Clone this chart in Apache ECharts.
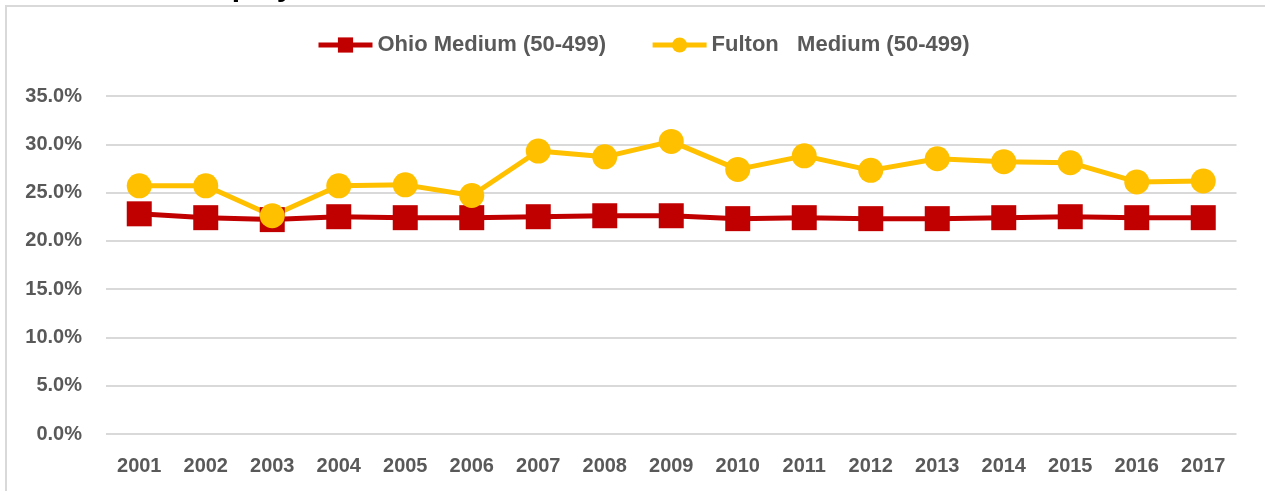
<!DOCTYPE html>
<html lang="en">
<head>
    <meta charset="UTF-8">
    <title>Medium establishments share</title>
    <script src="https://cdn.jsdelivr.net/npm/echarts@6/dist/echarts.min.js"></script>
    <style>
        html, body { margin: 0; padding: 0; background: #fff; }
    </style>
</head>
<body>
    <div id="main" style="width: 1265px;height: 491px;"></div>
    <script type="text/javascript">
        // data (percent)
        var years = ['2001', '2002', '2003', '2004', '2005', '2006', '2007', '2008', '2009',
            '2010', '2011', '2012', '2013', '2014', '2015', '2016', '2017'];
        var ohio = [22.8, 22.4, 22.2, 22.5, 22.4, 22.4, 22.5, 22.6, 22.6,
            22.3, 22.4, 22.3, 22.3, 22.4, 22.5, 22.4, 22.4];
        var fulton = [25.7, 25.7, 22.6, 25.7, 25.8, 24.7, 29.3, 28.7, 30.3,
            27.4, 28.8, 27.3, 28.5, 28.2, 28.1, 26.1, 26.2];
        var seriesNames = ['Ohio Medium (50-499)', 'Fulton   Medium (50-499)'];

        var font = 'Liberation Sans, Arial, sans-serif';
        var gray = '#595959';

        var myChart = echarts.init(document.getElementById('main'));
        myChart.setOption({
            animation: false,
            // title is cut off at the top of the picture, only descenders show
            title: {
                text: 'Employment Share',
                left: 180,
                top: -32,
                textStyle: { fontSize: 30, fontWeight: 'bold', color: '#000', fontFamily: font }
            },
            graphic: [{
                type: 'rect',
                silent: true,
                shape: { x: 6, y: 6, width: 1400, height: 600 },
                style: { fill: 'none', stroke: '#d9d9d9', lineWidth: 2 }
            }],
            legend: {
                left: 316,
                top: 34,
                padding: 0,
                itemWidth: 54,
                itemHeight: 19,
                itemGap: 44,
                lineStyle: { width: 5 },
                textStyle: { fontSize: 22, fontWeight: 'bold', color: gray, fontFamily: font },
                data: seriesNames
            },
            grid: { left: 106, right: 28.5, top: 96, bottom: 57 },
            xAxis: {
                type: 'category',
                data: years,
                boundaryGap: true,
                axisLine: { show: false },
                axisTick: { show: false },
                axisLabel: { margin: 22, fontSize: 20, fontWeight: 'bold', color: gray, fontFamily: font }
            },
            yAxis: {
                type: 'value',
                min: 0,
                max: 35,
                interval: 5,
                axisLine: { show: false },
                axisTick: { show: false },
                splitLine: { lineStyle: { color: '#d9d9d9', width: 2 } },
                axisLabel: {
                    margin: 24,
                    fontSize: 20,
                    fontWeight: 'bold',
                    color: gray,
                    fontFamily: font,
                    formatter: function (v) { return v.toFixed(1) + '%'; }
                }
            },
            series: [{
                name: seriesNames[0],
                type: 'line',
                data: ohio,
                symbol: 'rect',
                symbolSize: 25,
                color: '#c00000',
                lineStyle: { width: 5, color: '#c00000' },
                itemStyle: { color: '#c00000' }
            }, {
                name: seriesNames[1],
                type: 'line',
                data: fulton,
                symbol: 'circle',
                symbolSize: 25,
                color: '#ffc000',
                lineStyle: { width: 5, color: '#ffc000' },
                itemStyle: { color: '#ffc000' }
            }]
        });
    </script>
</body>
</html>
